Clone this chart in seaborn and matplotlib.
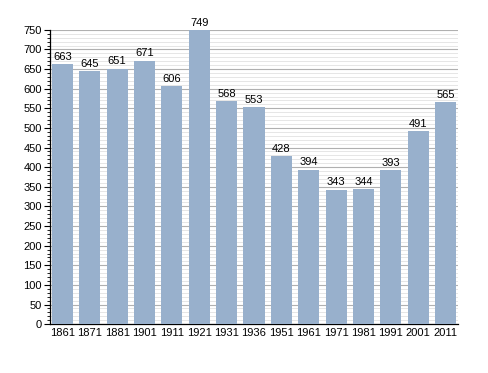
import matplotlib
matplotlib.use("Agg")
import matplotlib.pyplot as plt
import seaborn as sns
import pandas as pd
from matplotlib.ticker import MultipleLocator

years = ["1861", "1871", "1881", "1901", "1911", "1921", "1931", "1936", "1951",
         "1961", "1971", "1981", "1991", "2001", "2011"]
population = [663, 645, 651, 671, 606, 749, 568, 553, 428, 394, 343, 344, 393, 491, 565]

sns.set_style("white")
plt.rcParams['font.family'] = ['Liberation Sans', 'DejaVu Sans']
plt.rcParams['text.color'] = 'black'
plt.rcParams['xtick.color'] = 'black'
plt.rcParams['ytick.color'] = 'black'

df = pd.DataFrame({"year": years, "pop": population})
fig = plt.figure(figsize=(4.88, 3.73), dpi=100)
ax = fig.add_axes([0.1025, 0.131, 0.836, 0.789])

sns.barplot(data=df, x="year", y="pop", color="#98b0cc", saturation=1, width=0.77,
            linewidth=0, edgecolor="none", ax=ax, zorder=3)

ax.set_ylim(0, 750)
ax.set_xlim(-0.45, len(years) - 0.55)
ax.yaxis.set_major_locator(MultipleLocator(50))
ax.yaxis.set_minor_locator(MultipleLocator(10))
ax.grid(axis="y", which="major", color="#b0b0b0", linewidth=0.8, zorder=0)
ax.grid(axis="y", which="minor", color="#e2e2e2", linewidth=0.6, zorder=0)
ax.set_axisbelow(True)
ax.tick_params(axis="y", which="major", direction="out", length=4, width=0.8, labelsize=8, pad=2,
               left=True, colors="black")
ax.tick_params(axis="y", which="minor", direction="out", length=2, width=0.6, left=True, colors="black")
ax.tick_params(axis="x", length=0, labelsize=8, pad=3, colors="black")
ax.set_xlabel("")
ax.set_ylabel("")
for s in ["top", "right"]:
    ax.spines[s].set_visible(False)
for s in ["left", "bottom"]:
    ax.spines[s].set_color("black")
    ax.spines[s].set_linewidth(0.9)

for i, v in enumerate(population):
    ax.text(i, v + 6, str(v), ha="center", va="bottom", fontsize=8, color="black")

fig.savefig("out.png", dpi=100)
